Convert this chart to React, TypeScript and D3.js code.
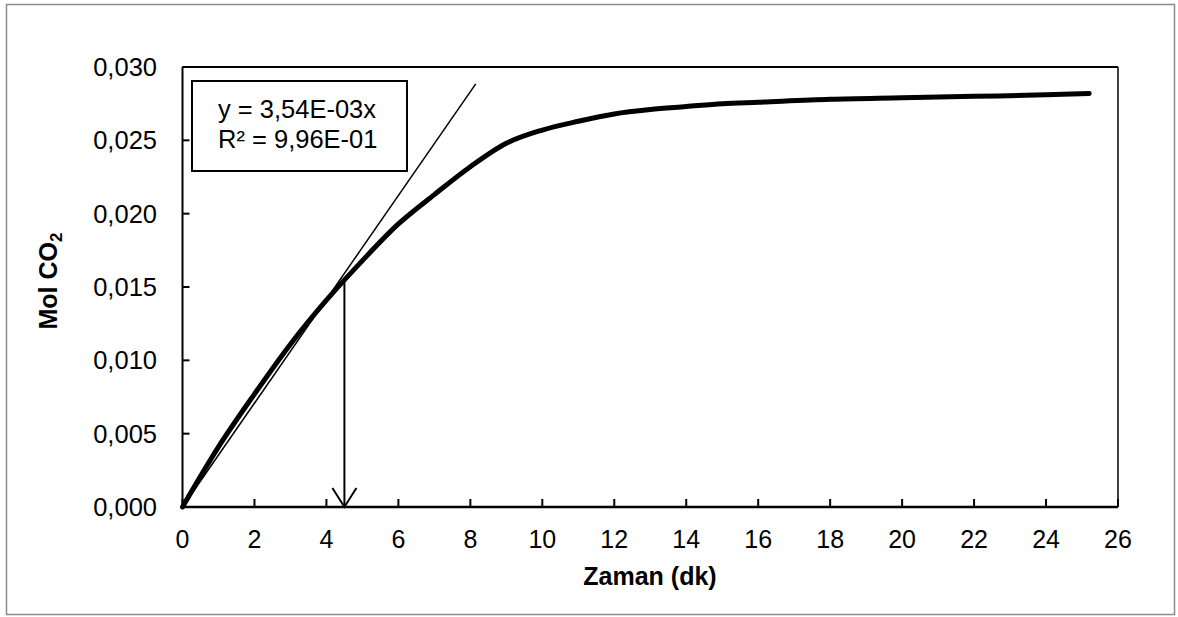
import React from "react";
import * as d3 from "d3";

const timeMin = [0, 1, 2, 3, 4, 5, 6, 7, 8, 9, 10, 11, 12, 13, 14, 15, 16, 18, 20, 22, 24, 25.2];
const molCO2 = [0, 0.0041, 0.0077, 0.0111, 0.0141, 0.0168, 0.0193, 0.0213, 0.0232, 0.0248, 0.0257, 0.0263, 0.0268, 0.0271, 0.0273, 0.0275, 0.0276, 0.0278, 0.0279, 0.028, 0.0281, 0.0282];
const xTicks = [0, 2, 4, 6, 8, 10, 12, 14, 16, 18, 20, 22, 24, 26];
const yTicks = [0, 0.005, 0.01, 0.015, 0.02, 0.025, 0.03];
const slope = 0.00354;
const tangentEndX = 8.15;
const arrowX = 4.5;
const arrowTopY = 0.0156;
const eqLines = ["y = 3,54E-03x", "R² = 9,96E-01"];

const W = 1178;
const H = 617;
const FONT = "Arial, 'Liberation Sans', sans-serif";

export default function App() {
  const x = d3.scaleLinear().domain([0, 26]).range([182.5, 1118]);
  const y = d3.scaleLinear().domain([0, 0.03]).range([507, 67]);
  const fmt = (v: number) => d3.format(".3f")(v).replace(".", ",");
  const pts = timeMin.map((t, i) => [t, molCO2[i]] as [number, number]);
  const line = d3
    .line<[number, number]>()
    .x((d) => x(d[0]))
    .y((d) => y(d[1]))
    .curve(d3.curveMonotoneX);
  const ax = x(arrowX);
  const ay0 = y(0);
  return (
    <svg
      width={W}
      height={H}
      style={{ position: "absolute", left: 0, top: 0, background: "#fff" }}
      fontFamily={FONT}
    >
      <rect x={6.5} y={4.5} width={1168} height={610} fill="#fff" stroke="#8c8c8c" strokeWidth={1.5} />
      {/* plot border */}
      <line x1={x(0)} x2={x(26)} y1={y(0.03)} y2={y(0.03)} stroke="#000" strokeWidth={2} />
      <line x1={x(26)} x2={x(26)} y1={y(0.03)} y2={y(0)} stroke="#000" strokeWidth={1.5} />
      {/* y axis */}
      <line x1={x(0)} x2={x(0)} y1={y(0.03)} y2={y(0)} stroke="#000" strokeWidth={2} />
      {yTicks.map((t) => (
        <g key={"y" + t}>
          <line x1={x(0)} x2={x(0) + 7} y1={y(t)} y2={y(t)} stroke="#000" strokeWidth={2} />
          <text x={157} y={y(t)} dy="0.35em" textAnchor="end" fontSize={25.5} fill="#000">
            {fmt(t)}
          </text>
        </g>
      ))}
      {/* x axis */}
      {xTicks.map((t) => (
        <g key={"x" + t}>
          <line x1={x(t)} x2={x(t)} y1={y(0)} y2={y(0) - 8} stroke="#000" strokeWidth={2} />
          <text x={x(t)} y={548} textAnchor="middle" fontSize={25} fill="#000">
            {t}
          </text>
        </g>
      ))}
      <line x1={x(0)} x2={x(26)} y1={y(0)} y2={y(0)} stroke="#000" strokeWidth={2.5} />
      {/* tangent line */}
      <line x1={x(0)} y1={y(0)} x2={x(tangentEndX)} y2={y(slope * tangentEndX)} stroke="#000" strokeWidth={1.5} />
      {/* data curve */}
      <path d={line(pts) || ""} fill="none" stroke="#000" strokeWidth={5} strokeLinecap="round" strokeLinejoin="round" />
      {/* arrow */}
      <line x1={ax} x2={ax} y1={y(arrowTopY)} y2={ay0} stroke="#000" strokeWidth={2} />
      <polyline
        points={`${ax - 12},${ay0 - 19} ${ax},${ay0} ${ax + 12},${ay0 - 19}`}
        fill="none"
        stroke="#000"
        strokeWidth={2}
      />
      {/* equation box */}
      <rect x={192} y={81} width={215} height={90} fill="#fff" stroke="#000" strokeWidth={2} />
      {eqLines.map((s, i) => (
        <text key={s} x={218} y={118 + i * 29.5} fontSize={25.5} fill="#000">
          {s}
        </text>
      ))}
      {/* axis titles */}
      <text x={650} y={585} textAnchor="middle" fontSize={25} fontWeight="bold" fill="#000">
        Zaman (dk)
      </text>
      <text
        transform={`translate(57, 281) rotate(-90)`}
        textAnchor="middle"
        fontSize={25}
        fontWeight="bold"
        fill="#000"
      >
        Mol CO<tspan fontSize={17} dy={5}>2</tspan>
      </text>
    </svg>
  );
}
